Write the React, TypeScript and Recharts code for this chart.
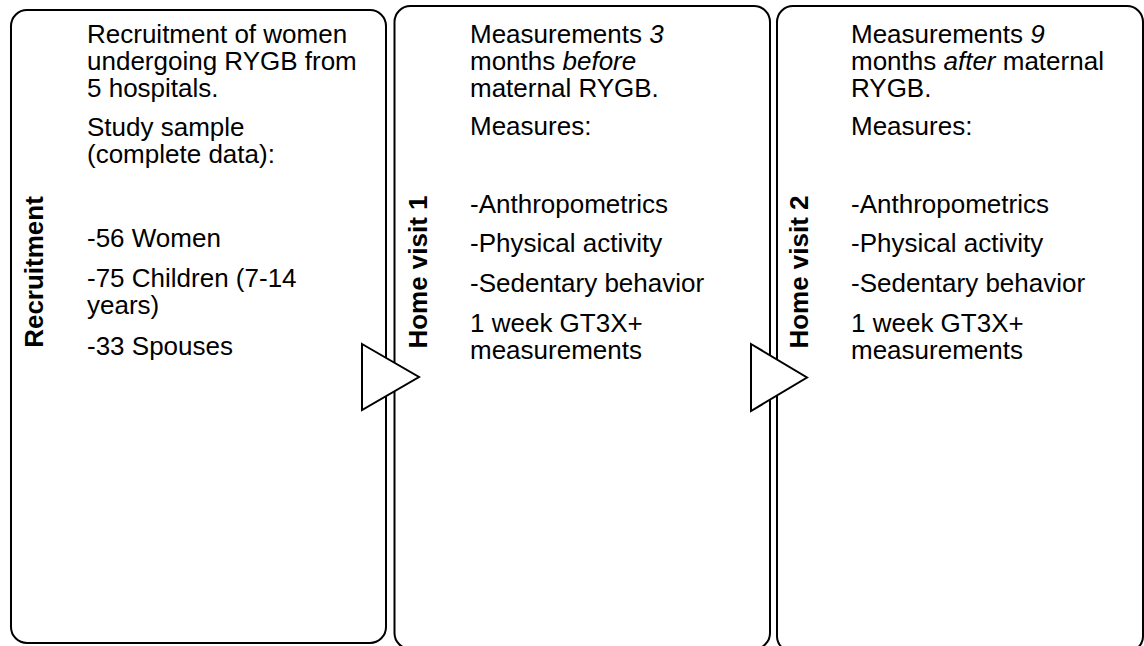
import React from "react";
import { ScatterChart, Scatter, XAxis, YAxis, ReferenceArea } from "recharts";

const FONT = "Arial, 'Liberation Sans', Helvetica, sans-serif";

// ---- content ----
const stageTitles = ["Recruitment", "Home visit 1", "Home visit 2"];
const recruitmentLines = [
  "Recruitment of women",
  "undergoing RYGB from",
  "5 hospitals.",
  "Study sample",
  "(complete data):",
  "-56 Women",
  "-75 Children (7-14",
  "years)",
  "-33 Spouses",
];
const visit1Lines = [
  "Measurements _3_",
  "months _before_",
  "maternal RYGB.",
  "Measures:",
  "-Anthropometrics",
  "-Physical activity",
  "-Sedentary behavior",
  "1 week GT3X+",
  "measurements",
];
const visit2Lines = [
  "Measurements _9_",
  "months _after_ maternal",
  "RYGB.",
  "Measures:",
  "-Anthropometrics",
  "-Physical activity",
  "-Sedentary behavior",
  "1 week GT3X+",
  "measurements",
];

// ---- layout (pixel space, 1:1 with the axes) ----
const W = 1144;
const H = 646;
const boxes = [
  { x1: 11, x2: 386, y1: 10, y2: 643 },
  { x1: 394.5, x2: 770, y1: 6, y2: 649 },
  { x1: 777, x2: 1143, y1: 6, y2: 652 },
];
const arrows = [
  { x1: 362, x2: 419, y1: 344, y2: 410 },
  { x1: 751, x2: 807, y1: 344, y2: 411 },
];
const textX = [87, 470, 851];
const baselinesRecruit = [43, 70, 97, 136, 163, 247, 287, 314, 355];
const baselinesVisit = [43, 70, 97, 135, 213, 252, 292, 332, 359];
const titleX = [43, 427, 808];
const titleY = 272;

const linesData = [
  recruitmentLines.map((t, i) => ({ x: textX[0], y: baselinesRecruit[i], text: t })),
  visit1Lines.map((t, i) => ({ x: textX[1], y: baselinesVisit[i], text: t })),
  visit2Lines.map((t, i) => ({ x: textX[2], y: baselinesVisit[i], text: t })),
];
const titlesData = stageTitles.map((t, i) => ({ x: titleX[i], y: titleY, text: t }));

const RADIUS = 16;

function BoxShape(props: any) {
  const { x, y, width, height } = props;
  const r = RADIUS;
  const d = `M${x + r},${y} H${x + width - r} A${r},${r} 0 0 1 ${x + width},${y + r} V${y + height - r} A${r},${r} 0 0 1 ${x + width - r},${y + height} H${x + r} A${r},${r} 0 0 1 ${x},${y + height - r} V${y + r} A${r},${r} 0 0 1 ${x + r},${y} Z`;
  return <path d={d} fill="#fff" stroke="#000" strokeWidth={2} />;
}

function ArrowShape(props: any) {
  const { x, y, width, height } = props;
  const pts = `${x},${y} ${x + width},${y + height / 2} ${x},${y + height}`;
  return <polygon points={pts} fill="#fff" stroke="#000" strokeWidth={2} strokeLinejoin="miter" />;
}

function LineText(props: any) {
  const { cx, cy, payload } = props;
  const parts = String(payload.text).split("_");
  return (
    <text x={cx} y={cy} fontSize={26} fontFamily={FONT} fill="#000" style={{ whiteSpace: "pre" }}>
      {parts.map((p, i) => (
        <tspan key={i} fontStyle={i % 2 ? "italic" : "normal"}>
          {p}
        </tspan>
      ))}
    </text>
  );
}

function TitleText(props: any) {
  const { cx, cy, payload } = props;
  return (
    <text
      x={cx}
      y={cy}
      transform={`rotate(-90 ${cx} ${cy})`}
      textAnchor="middle"
      fontSize={26}
      fontWeight="bold"
      fontFamily={FONT}
      fill="#000"
    >
      {payload.text}
    </text>
  );
}

export default function App() {
  return (
    <div style={{ position: "absolute", left: 0, top: 0, width: W, height: H, background: "#fff" }}>
      <ScatterChart width={W} height={H} margin={{ top: 0, right: 0, bottom: 0, left: 0 }}>
        <XAxis type="number" dataKey="x" domain={[0, W]} hide allowDataOverflow />
        <YAxis type="number" dataKey="y" domain={[0, H]} reversed hide allowDataOverflow />
        {boxes.map((b, i) => (
          <ReferenceArea key={"b" + i} x1={b.x1} x2={b.x2} y1={b.y1} y2={b.y2} ifOverflow="visible" shape={BoxShape} />
        ))}
        {arrows.map((a, i) => (
          <ReferenceArea key={"a" + i} x1={a.x1} x2={a.x2} y1={a.y1} y2={a.y2} ifOverflow="visible" shape={ArrowShape} />
        ))}
        {linesData.map((d, i) => (
          <Scatter key={"s" + i} data={d} shape={LineText} isAnimationActive={false} />
        ))}
        <Scatter data={titlesData} shape={TitleText} isAnimationActive={false} />
      </ScatterChart>
    </div>
  );
}
